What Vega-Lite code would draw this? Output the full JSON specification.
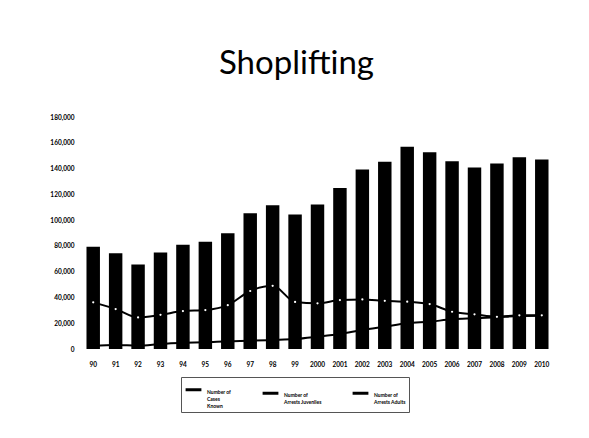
{
  "$schema": "https://vega.github.io/schema/vega-lite/v6.json",
  "width": 471,
  "height": 232,
  "autosize": {"type": "none"},
  "padding": {"left": 82, "top": 117, "right": 36, "bottom": 89},
  "background": "white",
  "title": {
    "text": "Shoplifting",
    "font": "Lato",
    "fontSize": 33,
    "fontWeight": "normal",
    "color": "black",
    "anchor": "middle",
    "dx": -21,
    "offset": 33
  },
  "config": {
    "view": {"stroke": null},
    "font": "Lato"
  },
  "data": {
    "values": [
      {"year": "90", "cases": 79300, "juveniles": 36200, "adults": 2300},
      {"year": "91", "cases": 74200, "juveniles": 31000, "adults": 3100},
      {"year": "92", "cases": 65600, "juveniles": 24500, "adults": 2700},
      {"year": "93", "cases": 74900, "juveniles": 26500, "adults": 3900},
      {"year": "94", "cases": 80800, "juveniles": 29400, "adults": 4900},
      {"year": "95", "cases": 83200, "juveniles": 30200, "adults": 5200},
      {"year": "96", "cases": 89900, "juveniles": 34000, "adults": 6000},
      {"year": "97", "cases": 105400, "juveniles": 45000, "adults": 6400},
      {"year": "98", "cases": 111600, "juveniles": 49000, "adults": 7000},
      {"year": "99", "cases": 104400, "juveniles": 36500, "adults": 7700},
      {"year": "2000", "cases": 112100, "juveniles": 35400, "adults": 9500},
      {"year": "2001", "cases": 125000, "juveniles": 38000, "adults": 11600},
      {"year": "2002", "cases": 139300, "juveniles": 38500, "adults": 14700},
      {"year": "2003", "cases": 145200, "juveniles": 37400, "adults": 17300},
      {"year": "2004", "cases": 157000, "juveniles": 36700, "adults": 19900},
      {"year": "2005", "cases": 152700, "juveniles": 34900, "adults": 21200},
      {"year": "2006", "cases": 145700, "juveniles": 28900, "adults": 23000},
      {"year": "2007", "cases": 140800, "juveniles": 26900, "adults": 23800},
      {"year": "2008", "cases": 143900, "juveniles": 25000, "adults": 24600},
      {"year": "2009", "cases": 148800, "juveniles": 26100, "adults": 25600},
      {"year": "2010", "cases": 147000, "juveniles": 26100, "adults": 25800}
    ]
  },
  "transform": [
    {"fold": ["cases", "juveniles", "adults"], "as": ["key", "value"]},
    {"lookup": "key", "from": {"data": {"values": [
      {"key": "cases", "series": "Number of Cases Known"},
      {"key": "juveniles", "series": "Number of Arrests Juveniles"},
      {"key": "adults", "series": "Number of Arrests Adults"}
    ]}, "key": "key", "fields": ["series"]}}
  ],
  "encoding": {
    "x": {
      "field": "year", "type": "nominal", "sort": null, "title": null,
      "scale": {"paddingInner": 0.4, "paddingOuter": 0.2},
      "axis": {"labelAngle": 0, "domain": false, "ticks": false, "labelPadding": 12,
               "labelFont": "Lato", "labelFontSize": 6.5, "labelFontWeight": "bold", "labelColor": "black"}
    },
    "y": {
      "field": "value", "type": "quantitative", "title": null,
      "scale": {"domain": [0, 180000], "nice": false},
      "axis": {"values": [0,20000,40000,60000,80000,100000,120000,140000,160000,180000],
               "format": ",.0f", "domain": false, "ticks": false, "grid": false, "labelPadding": 8,
               "labelFont": "Lato", "labelFontSize": 6.5, "labelFontWeight": "bold", "labelColor": "black"}
    },
    "color": {
      "field": "series", "type": "nominal",
      "scale": {"domain": ["Number of Cases Known", "Number of Arrests Juveniles", "Number of Arrests Adults"],
                "range": ["black", "black", "black"]},
      "legend": {
        "orient": "none", "legendX": 99, "legendY": 260,
        "direction": "horizontal", "title": null,
        "symbolType": "stroke", "symbolStrokeWidth": 3, "symbolSize": 250,
        "labelFont": "Lato", "labelFontSize": 5, "labelFontWeight": "bold", "labelColor": "black",
        "labelExpr": "datum.label == 'Number of Cases Known' ? ['Number of','Cases','Known'] : datum.label == 'Number of Arrests Juveniles' ? ['Number of','Arrests Juveniles'] : ['Number of','Arrests Adults']",
        "labelBaseline": "top",
        "labelOffset": 4,
        "columnPadding": 24,
        "padding": 3,
        "strokeColor": "#555555"
      }
    }
  },
  "layer": [
    {
      "transform": [{"filter": "datum.key == 'cases'"}],
      "mark": {"type": "bar", "color": "black"}
    },
    {
      "transform": [{"filter": "datum.key != 'cases'"}],
      "mark": {"type": "line", "interpolate": "monotone", "strokeWidth": 2},
      "encoding": {"detail": {"field": "key"}}
    },
    {
      "transform": [{"filter": "datum.key == 'juveniles'"}],
      "mark": {"type": "point", "filled": true, "fill": "white", "size": 5, "opacity": 1}
    }
  ]
}
